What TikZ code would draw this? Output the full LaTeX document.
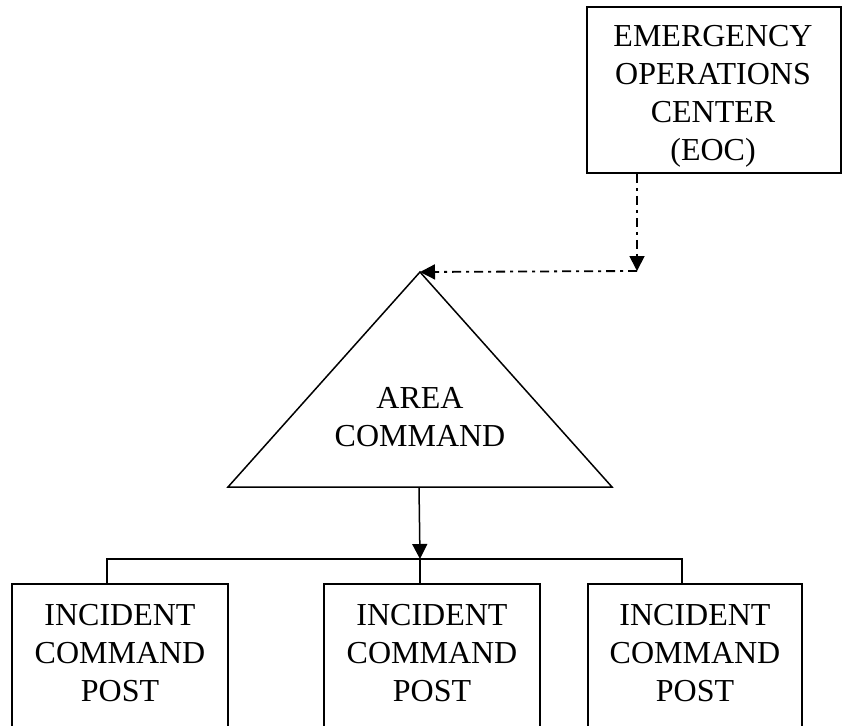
\documentclass[tikz,border=0pt]{standalone}
\usepackage{fontspec}
\setmainfont{Liberation Serif}
\usetikzlibrary{arrows.meta}
\begin{document}
\begin{tikzpicture}[x=1pt,y=-1pt,
  lbl/.style={align=center, inner sep=0pt, font=\fontsize{32}{38}\selectfont},
  boxnode/.style={draw, line width=1.5pt, inner sep=0pt},
  conn/.style={line width=1.5pt},
  tip/.style={-{Triangle[length=15pt,width=15pt]}},
  dd/.style={line width=1.8pt, dash pattern=on 9pt off 5pt on 3pt off 5pt}]
\useasboundingbox (0,0) rectangle (842,725);
\begin{scope}
\clip (0,0) rectangle (842,725);
% EOC
\node[boxnode, minimum width=254pt, minimum height=166pt] (eoc) at (714,90) {};
\node[lbl] (eoctxt) at (713,96) {EMERGENCY\\OPERATIONS\\CENTER\\(EOC)};
% dash-dot connectors
\coordinate (corner) at (637,271);
\coordinate (apex) at (420,272);
\draw[dd,tip] (eoc.south -| corner) -- (corner);
\draw[dd,tip] (corner) -- (apex);
% area command triangle
\coordinate (tl) at (228,487);
\coordinate (tr) at (612,487);
\draw[conn, line join=miter] (apex) -- (tr) -- (tl) -- cycle;
\node[lbl] (area) at (420,417) {AREA\\COMMAND};
% connector to bus
\coordinate (basemid) at (419,487);
\coordinate (busmid) at (420,559);
\draw[conn,tip] (basemid) -- (busmid);
% incident command posts
\node[boxnode, minimum width=216pt, minimum height=180pt, anchor=north] (ic1) at (120,583) {};
\node[boxnode, minimum width=216pt, minimum height=180pt, anchor=north] (ic2) at (432,583) {};
\node[boxnode, minimum width=214pt, minimum height=180pt, anchor=north] (ic3) at (695,583) {};
\node[lbl] (ic1txt) at (120,653) {INCIDENT\\COMMAND\\POST};
\node[lbl] (ic2txt) at (432,653) {INCIDENT\\COMMAND\\POST};
\node[lbl] (ic3txt) at (695,653) {INCIDENT\\COMMAND\\POST};
% bus
\coordinate (b1) at (107,559);
\coordinate (b3) at (682,559);
\draw[conn] (ic1.north -| b1) -- (b1) -- (b3) -- (ic3.north -| b3);
\draw[conn] (busmid) -- (ic2.north -| busmid);
\end{scope}
\end{tikzpicture}
\end{document}
